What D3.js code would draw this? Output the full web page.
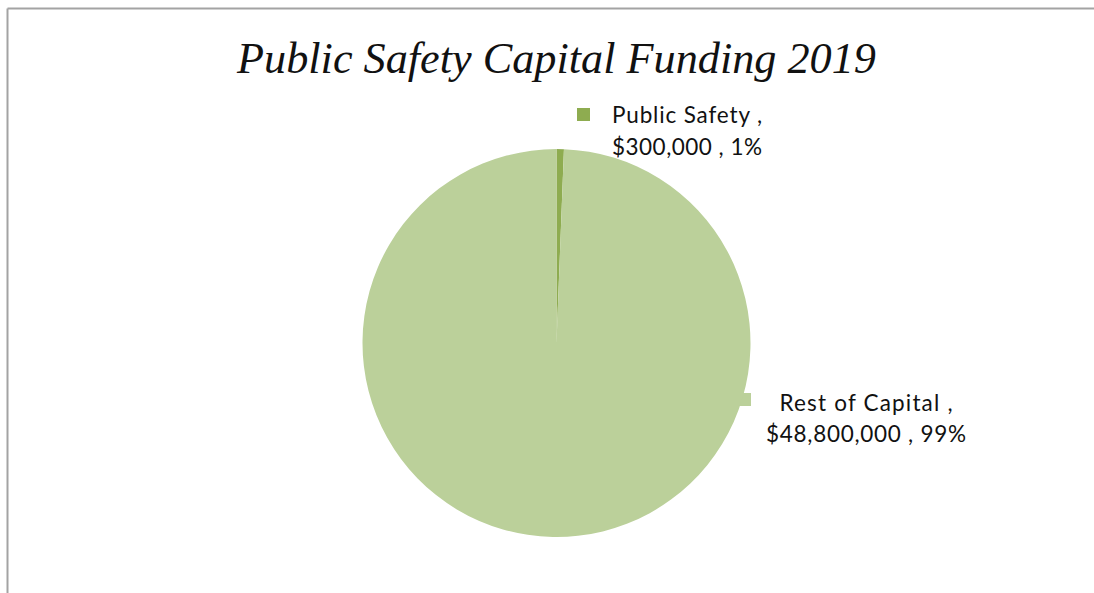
<!DOCTYPE html>
<html>
<head>
<meta charset="utf-8">
<script src="https://cdn.jsdelivr.net/npm/d3@7"></script>
<style>
  html, body { margin: 0; padding: 0; background: #ffffff; }
  svg { display: block; }
</style>
</head>
<body>
<svg id="chart" width="1094" height="593"></svg>
<script>
// Capital funding split, 2019
const categories = ["Public Safety", "Rest of Capital"];
const amounts = [300000, 48800000];
const percentLabels = ["1%", "99%"];
const sliceColors = ["#8eac50", "#bbd09a"];
const titleText = "Public Safety Capital Funding 2019";

const W = 1094, H = 593;
const svg = d3.select("#chart");

// frame: top and left rules only
svg.append("line").attr("x1", 7.5).attr("y1", 8.5).attr("x2", W).attr("y2", 8.5)
  .attr("stroke", "#a3a3a3").attr("stroke-width", 2);
svg.append("line").attr("x1", 7.5).attr("y1", 8.5).attr("x2", 7.5).attr("y2", H)
  .attr("stroke", "#a3a3a3").attr("stroke-width", 2);

// title
const title = svg.append("text")
  .attr("x", 556.5).attr("y", 73)
  .attr("text-anchor", "middle")
  .style("font-family", "'Liberation Serif', 'DejaVu Serif', serif")
  .style("font-style", "italic")
  .style("font-size", "44px")
  .attr("fill", "#111")
  .text(titleText);
{
  const w = title.node().getComputedTextLength();
  title.style("font-size", (44 * 639 / w).toFixed(2) + "px");
}

// pie
const cx = 556.5, cy = 343, R = 194;
const pie = d3.pie().sort(null).value(d => d.value).startAngle(0).endAngle(2 * Math.PI);
const data = categories.map((c, i) => ({ name: c, value: amounts[i], color: sliceColors[i], pct: percentLabels[i] }));
const arcs = pie(data);
const arc = d3.arc().innerRadius(0).outerRadius(R);

const fmt = d3.format("$,");

// label markers (drawn under the pie)
const labelSpec = [
  { mx: 577, my: 108, ms: 13, x: 687, y1: 123, y2: 155, w1: 150, w2: 150 },
  { mx: 738, my: 393, ms: 13, x: 866, y1: 411, y2: 442, w1: 173, w2: 200 }
];

const gLab = svg.append("g");
arcs.forEach((a, i) => {
  const s = labelSpec[i];
  gLab.append("rect").attr("x", s.mx).attr("y", s.my).attr("width", s.ms).attr("height", s.ms)
    .attr("fill", a.data.color);
});

const gPie = svg.append("g").attr("transform", `translate(${cx},${cy})`);
gPie.selectAll("path").data(arcs).join("path")
  .attr("d", arc)
  .attr("fill", d => d.data.color);

// data labels
arcs.forEach((a, i) => {
  const s = labelSpec[i];
  const lines = [a.data.name + " ,", fmt(a.data.value) + " , " + a.data.pct];
  const widths = [s.w1, s.w2];
  const ys = [s.y1, s.y2];
  lines.forEach((t, j) => {
    gLab.append("text")
      .attr("x", s.x).attr("y", ys[j])
      .attr("text-anchor", "middle")
      .attr("textLength", widths[j])
      .attr("lengthAdjust", "spacing")
      .style("font-family", "Lato, 'Open Sans', sans-serif")
      .style("font-size", "22.5px")
      .attr("fill", "#111")
      .text(t);
  });
});
</script>
</body>
</html>
